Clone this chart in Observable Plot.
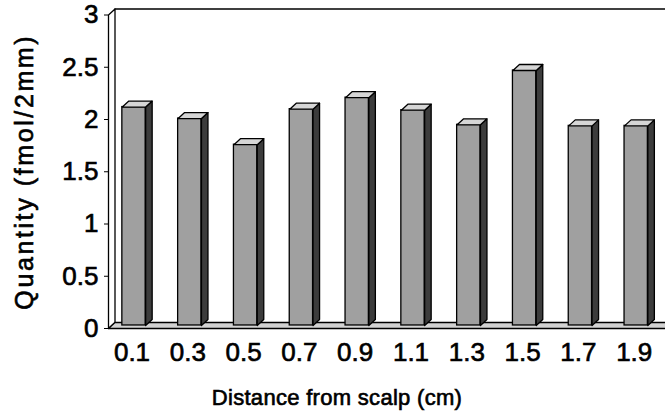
<!DOCTYPE html>
<html>
<head>
<meta charset="utf-8">
<script src="https://cdn.jsdelivr.net/npm/d3@7"></script>
<script src="https://cdn.jsdelivr.net/npm/@observablehq/plot@0.6"></script>
<style>
  html, body { margin: 0; padding: 0; background: #fff; }
  #chart svg { display: block; }
</style>
</head>
<body>
<div id="chart"></div>
<script>
// ---- data ----
const distances = ["0.1", "0.3", "0.5", "0.7", "0.9", "1.1", "1.3", "1.5", "1.7", "1.9"];
const quantities = [2.09, 1.98, 1.73, 2.07, 2.18, 2.06, 1.92, 2.44, 1.91, 1.91];
const yTicks = [0, 0.5, 1, 1.5, 2, 2.5, 3];
const xTitle = "Distance from scalp (cm)";
const yTitle = "Quantity (fmol/2mm)";

// ---- 3D look constants (in scale units) ----
const XMIN = -0.457, XMAX = 9.525;
const BW = 0.209;     // half width of a bar front face
const DX = 0.1165;    // depth offset along x
const DY = 0.0574;    // depth offset along y
const BASE = 0.029;   // bars stand slightly back on the floor
const YMAX = 3;

const bars = distances.map((d, i) => ({i, d, v: quantities[i]}));

const poly = (id, pts) => pts.concat([pts[0]]).map(([x, y]) => ({id, x, y}));

const sideFaces = bars.flatMap(b => poly(b.i, [
  [b.i + BW, BASE], [b.i + BW + DX, BASE + DY], [b.i + BW + DX, b.v + BASE + DY], [b.i + BW, b.v + BASE]
]));
const topFaces = bars.flatMap(b => poly(b.i, [
  [b.i - BW, b.v + BASE], [b.i + BW, b.v + BASE], [b.i + BW + DX, b.v + BASE + DY], [b.i - BW + DX, b.v + BASE + DY]
]));
const wall = poly("wall", [[XMIN, 0], [XMIN, YMAX], [XMIN + DX, YMAX + DY], [XMIN + DX, DY]]);
const floor = poly("floor", [[XMIN, 0], [XMAX + 1, 0], [XMAX + 1 + DX, DY], [XMIN + DX, DY]]);
const backTop = [{x: XMIN + DX, y: YMAX + DY}, {x: XMAX + 1, y: YMAX + DY}];

const chart = Plot.plot({
  width: 665,
  height: 416,
  marginLeft: 108,
  marginRight: 0,
  marginTop: 14.5,
  marginBottom: 88,
  style: {fontFamily: "'Liberation Sans', Arial, sans-serif", background: "#fff", color: "#000"},
  x: {domain: [XMIN, XMAX], axis: null},
  y: {domain: [0, YMAX], axis: null},
  marks: [
    Plot.line(wall, {x: "x", y: "y", z: "id", fill: "#fff", stroke: "#000", strokeWidth: 1.3}),
    Plot.line(backTop, {x: "x", y: "y", stroke: "#000", strokeWidth: 1.5}),
    Plot.line(floor, {x: "x", y: "y", z: "id", fill: "#d2d2d2", stroke: "#000", strokeWidth: 1.3}),
    Plot.rect(bars, {x1: d => d.i - BW, x2: d => d.i + BW, y1: BASE, y2: d => d.v + BASE,
      fill: "#a0a0a0", stroke: "#000", strokeWidth: 1.3}),
    Plot.line(sideFaces, {x: "x", y: "y", z: "id", fill: "#3c3c3c", stroke: "#000", strokeWidth: 1.3}),
    Plot.line(topFaces, {x: "x", y: "y", z: "id", fill: "#d6d6d6", stroke: "#000", strokeWidth: 1.3}),
    Plot.axisY(yTicks, {anchor: "left", tickSize: 4, tickPadding: 6, fontSize: 26,
      tickFormat: d => String(d), label: null, stroke: "#000"}),
    Plot.axisX(bars.map(b => b.i), {anchor: "bottom", tickSize: 0, tickPadding: 14.5, fontSize: 26,
      tickFormat: i => distances[i], label: null, dx: -2}),
    Plot.text([xTitle], {text: d => d, frameAnchor: "bottom", dx: -50, dy: 69, fontSize: 22,
      lineAnchor: "middle", textAnchor: "middle", fill: "#000"}),
    Plot.text([yTitle], {text: d => d, frameAnchor: "left", dx: -84, dy: 0, rotate: -90, fontSize: 25,
      lineAnchor: "middle", textAnchor: "middle", fill: "#000"})
  ]
});
// enforce font sizes / weight of texts
const tickTexts = new Set(distances.concat(yTicks.map(String)));
chart.querySelectorAll("text").forEach(t => {
  t.style.stroke = "#000";
  t.style.strokeWidth = "0.65px";
  t.style.fill = "#000";
  if (tickTexts.has(t.textContent)) { t.style.fontSize = "26px"; }
  if (t.textContent === yTitle) { t.style.letterSpacing = "2.6px"; t.style.fontSize = "25px"; }
  if (t.textContent === xTitle) { t.style.fontSize = "22px"; t.style.letterSpacing = "0.3px"; }
});
document.getElementById("chart").appendChild(chart);
</script>
</body>
</html>
